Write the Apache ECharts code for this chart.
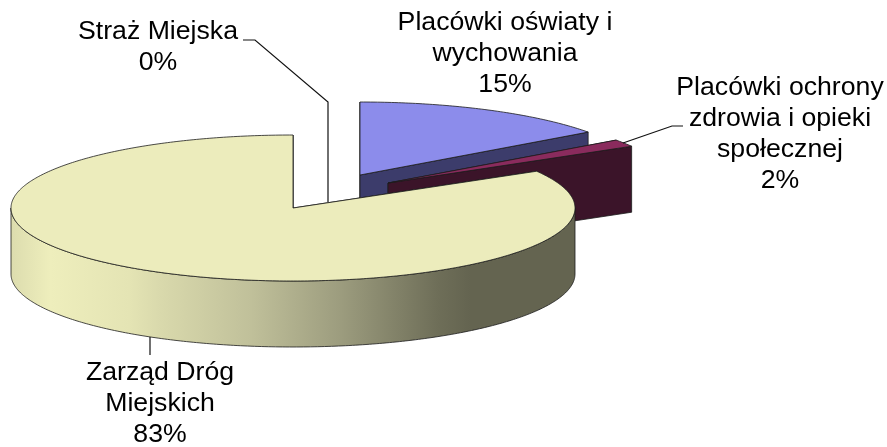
<!DOCTYPE html>
<html><head><meta charset="utf-8">
<style>html,body{margin:0;padding:0;background:#fff}#c{width:887px;height:447px}</style>
<script src="https://cdn.jsdelivr.net/npm/echarts@6/dist/echarts.min.js"></script>
</head><body><div id="c"></div>
<script>
// Data
const categories = ['Placówki oświaty i\nwychowania', 'Placówki ochrony\nzdrowia i opieki\nspołecznej', 'Zarząd Dróg\nMiejskich', 'Straż Miejska'];
const values = [15.0, 1.6, 83.4, 0];
// Style
const topColors = ['#8c8ceb', '#8a2b5d', '#ececbc', '#ffffff'];
const wallColors = ['#3c3c6b', '#3b1429', '#666650', '#ffffff'];
const wallGradient = [[0, '#dcdcae'], [0.07, '#eeeebc'], [0.21, '#e4e4b4'], [0.265, '#d9d9ac'], [0.425, '#c0c09a'], [0.585, '#9c9c7e'], [0.757, '#6e6e58'], [0.815, '#646450'], [1, '#646450']];
// Layout
const CX = 293, CY = 208, RX = 282, RY = 73, DEPTH = 66;
const offsets = [[67, -33], [95, -25], [0, 0], [0, 0]];
const labelAnchors = [[505, 23], [780, 88], [160, 373], [158, 32]];
const LINE_H = 31;
const leaderPaths = [
  null,
  [[623, 143], [672, 126], [683, 126]],
  [[150, 337], [150, 355]],
  [[243, 40], [255, 40], [328, 102], [328, 202]]
];

const total = values.reduce((a, b) => a + b, 0);
const sweeps = values.map(v => v / total * Math.PI * 2);
const starts = sweeps.map((_, i) => sweeps.slice(0, i).reduce((a, b) => a + b, 0));

function pt(i, a, drop) {
  // a: clockwise angle from 12 o'clock
  return [CX + offsets[i][0] + RX * Math.sin(a), CY + offsets[i][1] - RY * Math.cos(a) + (drop || 0)];
}
function arc(i, a0, a1, drop) {
  const n = Math.max(2, Math.ceil((a1 - a0) * 80)), out = [];
  for (let k = 0; k <= n; k++) out.push(pt(i, a0 + (a1 - a0) * k / n, drop));
  return out;
}
function renderSlice(params, api) {
  const i = params.dataIndex;
  if (values[i] === 0) return { type: 'group', children: [] };
  const a0 = starts[i], a1 = a0 + sweeps[i];
  const apex = [CX + offsets[i][0], CY + offsets[i][1]];
  const apexLow = [apex[0], apex[1] + DEPTH];
  const edge = { stroke: '#1c1c1c', lineWidth: 0.8, lineJoin: 'round' };
  const children = [];
  // radial cut faces
  [a0, a1].forEach(a => {
    children.push({ type: 'polygon', z2: 1, shape: { points: [apex, pt(i, a), pt(i, a, DEPTH), apexLow] },
      style: Object.assign({ fill: wallColors[i] }, edge) });
  });
  // outer wall: only the front half (right → bottom → left) is visible
  const w0 = Math.max(a0, Math.PI / 2), w1 = Math.min(a1, Math.PI * 1.5);
  if (w1 > w0) {
    const up = arc(i, w0, w1, 0), low = arc(i, w0, w1, DEPTH).reverse();
    children.push({ type: 'polygon', z2: 2, shape: { points: up.concat(low) },
      style: Object.assign({
        fill: { type: 'linear', x: CX - RX, y: 0, x2: CX + RX, y2: 0, global: true,
          colorStops: wallGradient.map(s => ({ offset: s[0], color: s[1] })) }
      }, edge) });
  }
  // top face
  children.push({ type: 'polygon', z2: 3, shape: { points: [apex].concat(arc(i, a0, a1, 0)) },
    style: Object.assign({ fill: topColors[i] }, edge) });
  return { type: 'group', z2: i, children };
}
function renderLabel(params, api) {
  const i = params.dataIndex;
  const lines = categories[i].split('\n').concat(Math.round(values[i] / total * 100) + '%');
  const kids = lines.map((t, k) => ({ type: 'text', z2: 10,
    style: { text: t, x: labelAnchors[i][0], y: labelAnchors[i][1] + k * LINE_H,
      font: '26.67px "Liberation Sans", Arial, sans-serif', fill: '#000', align: 'center', verticalAlign: 'middle' } }));
  if (leaderPaths[i]) kids.push({ type: 'polyline', z2: 9, shape: { points: leaderPaths[i] },
    style: { fill: null, stroke: '#111', lineWidth: 1.2 } });
  return { type: 'group', children: kids };
}
const chart = echarts.init(document.getElementById('c'), null, { renderer: 'canvas' });
const seriesData = categories.map((c, i) => ({ name: c, value: values[i] }));
chart.setOption({
  animation: false,
  backgroundColor: '#fff',
  series: [
    { type: 'custom', coordinateSystem: 'none', renderItem: renderSlice, data: seriesData, silent: true, z: 2 },
    { type: 'custom', coordinateSystem: 'none', renderItem: renderLabel, data: seriesData, silent: true, z: 3 }
  ]
});
</script></body></html>
